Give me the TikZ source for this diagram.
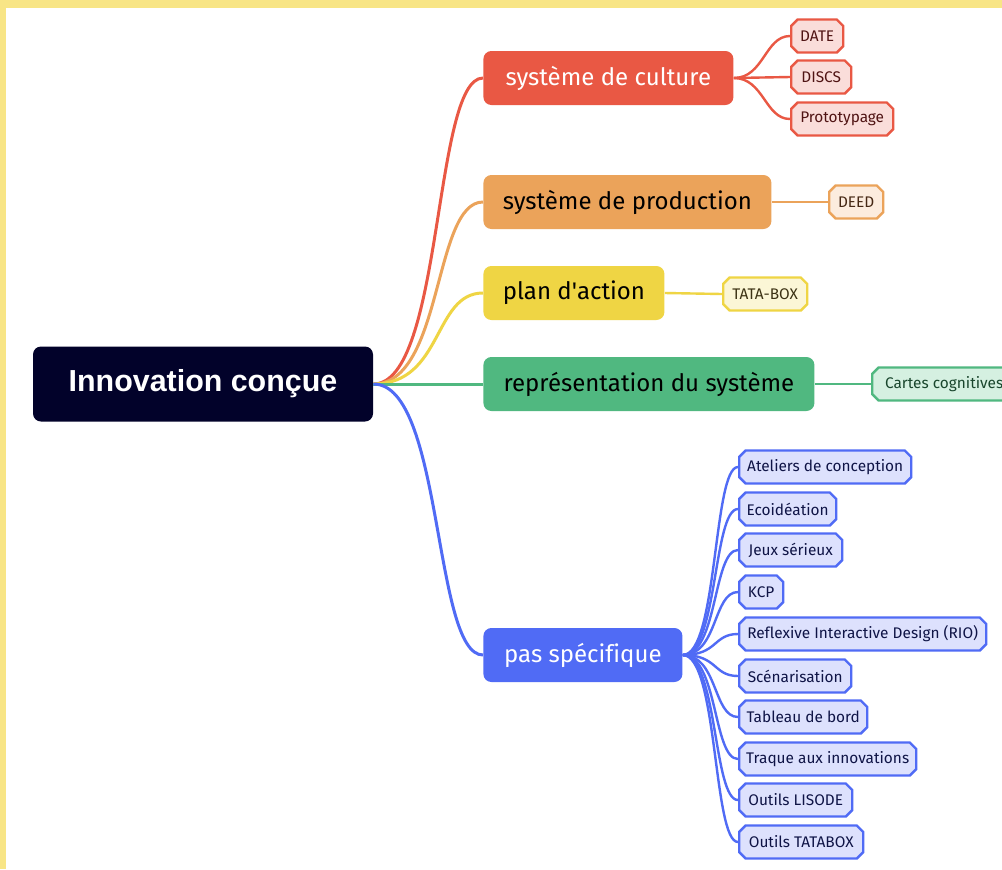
\documentclass[tikz,border=0pt]{standalone}
\usepackage{fontspec}
\setmainfont[Ligatures=NoCommon]{Fira Sans}
\newfontfamily\titlefont{Liberation Sans}
\usetikzlibrary{shapes.misc}

\definecolor{framecol}{RGB}{248,229,134}
\definecolor{rootcol}{RGB}{2,2,42}
\definecolor{redcol}{RGB}{233,88,68}
\definecolor{orangecol}{RGB}{235,163,90}
\definecolor{yellowcol}{RGB}{239,213,68}
\definecolor{greencol}{RGB}{80,184,128}
\definecolor{bluecol}{RGB}{80,107,245}
\definecolor{redlight}{RGB}{250,221,218}
\definecolor{orangelight}{RGB}{252,236,222}
\definecolor{yellowlight}{RGB}{251,246,214}
\definecolor{greenlight}{RGB}{213,240,225}
\definecolor{bluelight}{RGB}{221,225,253}
\definecolor{redtext}{RGB}{80,20,20}
\definecolor{orangetext}{RGB}{70,40,20}
\definecolor{yellowtext}{RGB}{60,50,20}
\definecolor{greentext}{RGB}{25,70,45}
\definecolor{bluetext}{RGB}{15,20,70}

\begin{document}
\begin{tikzpicture}[
			x=0.5pt, y=-0.5pt,
			every node/.style={inner sep=0pt},
			root/.style={rounded corners=4pt, fill=rootcol, text=white, minimum width=170pt, minimum height=37.5pt, font=\titlefont\bfseries\fontsize{15.2}{18}\selectfont},
			topic/.style={rounded corners=4pt, anchor=west, minimum height=27pt, font=\fontsize{12}{14}\selectfont},
			leaf/.style={chamfered rectangle, chamfered rectangle xsep=1.6pt, chamfered rectangle ysep=1.6pt, draw, line width=1.2pt, anchor=west, minimum height=16.5pt, font=\fontsize{7.7}{9}\selectfont},
			link/.style={line width=1.5pt},
			twig/.style={line width=1.2pt},
		]
		\useasboundingbox (0,0) rectangle (1002,869);
		\fill[framecol] (0,0) rectangle (1002,869);
		\fill[white] (6,8) rectangle (1002,869);
		\clip (6,8) rectangle (1002,869);

		% Root node
		\node[root] (root) at (203,384) {Innovation conçue};

		% Level 1 nodes
		\node[topic, fill=redcol, text=white, minimum width=125pt] (culture) at (483,78) {système de culture};
		\node[topic, fill=orangecol, text=black, minimum width=144pt] (production) at (483,202) {système de production};
		\node[topic, fill=yellowcol, text=black, minimum width=90.5pt] (plan) at (483,293) {plan d\textquotesingle action};
		\node[topic, fill=greencol, text=black, minimum width=165.5pt] (repr) at (483,384) {représentation du système};
		\node[topic, fill=bluecol, text=white, minimum width=99.5pt] (pas) at (483,655) {pas spécifique};

		% Level 2 nodes
		\node[leaf, draw=redcol, fill=redlight, text=redtext, minimum width=26pt] (date) at (790,36) {DATE};
		\node[leaf, draw=redcol, fill=redlight, text=redtext, minimum width=30pt] (discs) at (790,77) {DISCS};
		\node[leaf, draw=redcol, fill=redlight, text=redtext, minimum width=51pt] (proto) at (790,119) {Prototypage};
		\node[leaf, draw=orangecol, fill=orangelight, text=orangetext, minimum width=27pt] (deed) at (828,202) {DEED};
		\node[leaf, draw=yellowcol, fill=yellowlight, text=yellowtext, minimum width=42pt] (tatabox) at (722,294) {TATA-BOX};
		\node[leaf, draw=greencol, fill=greenlight, text=greentext, minimum width=72pt] (cartes) at (871,384) {Cartes cognitives};
		\node[leaf, draw=bluecol, fill=bluelight, text=bluetext, minimum width=86pt] (ateliers) at (738,467) {Ateliers de conception};
		\node[leaf, draw=bluecol, fill=bluelight, text=bluetext, minimum width=48.5pt] (ecoid) at (738,509) {Ecoidéation};
		\node[leaf, draw=bluecol, fill=bluelight, text=bluetext, minimum width=51.5pt] (jeux) at (738,550) {Jeux sérieux};
		\node[leaf, draw=bluecol, fill=bluelight, text=bluetext, minimum width=22pt] (kcp) at (738,592) {KCP};
		\node[leaf, draw=bluecol, fill=bluelight, text=bluetext, minimum width=123.5pt] (rio) at (738,634) {Reflexive Interactive Design (RIO)};
		\node[leaf, draw=bluecol, fill=bluelight, text=bluetext, minimum width=56pt] (scen) at (738,676) {Scénarisation};
		\node[leaf, draw=bluecol, fill=bluelight, text=bluetext, minimum width=64pt] (tableau) at (738,717) {Tableau de bord};
		\node[leaf, draw=bluecol, fill=bluelight, text=bluetext, minimum width=88.5pt] (traque) at (738,759) {Traque aux innovations};
		\node[leaf, draw=bluecol, fill=bluelight, text=bluetext, minimum width=56.5pt] (lisode) at (738,800) {Outils LISODE};
		\node[leaf, draw=bluecol, fill=bluelight, text=bluetext, minimum width=62pt] (outtata) at (738,842) {Outils TATABOX};

		% Connections from root to level 1
		\draw[link, redcol] (root.east) .. controls +(70,0) and +(-50,0) .. (culture.west);
		\draw[link, orangecol] (root.east) .. controls +(70,0) and +(-50,0) .. (production.west);
		\draw[link, yellowcol] (root.east) .. controls +(70,0) and +(-50,0) .. (plan.west);
		\draw[link, greencol] (root.east) -- (repr.west);
		\draw[link, bluecol] (root.east) .. controls +(70,0) and +(-50,0) .. (pas.west);

		% Connections from level 1 to level 2
		\draw[twig, redcol] (culture.east) .. controls +(30,0) and +(-25,0) .. (date.west);
		\draw[twig, redcol] (culture.east) -- (discs.west);
		\draw[twig, redcol] (culture.east) .. controls +(30,0) and +(-25,0) .. (proto.west);
		\draw[twig, orangecol] (production.east) -- (deed.west);
		\draw[twig, yellowcol] (plan.east) -- (tatabox.west);
		\draw[twig, greencol] (repr.east) -- (cartes.west);
		\draw[twig, bluecol] (pas.east) .. controls +(35,0) and +(-25,0) .. (ateliers.west);
		\draw[twig, bluecol] (pas.east) .. controls +(35,0) and +(-25,0) .. (ecoid.west);
		\draw[twig, bluecol] (pas.east) .. controls +(35,0) and +(-25,0) .. (jeux.west);
		\draw[twig, bluecol] (pas.east) .. controls +(35,0) and +(-25,0) .. (kcp.west);
		\draw[twig, bluecol] (pas.east) .. controls +(35,0) and +(-25,0) .. (rio.west);
		\draw[twig, bluecol] (pas.east) .. controls +(35,0) and +(-25,0) .. (scen.west);
		\draw[twig, bluecol] (pas.east) .. controls +(35,0) and +(-25,0) .. (tableau.west);
		\draw[twig, bluecol] (pas.east) .. controls +(35,0) and +(-25,0) .. (traque.west);
		\draw[twig, bluecol] (pas.east) .. controls +(35,0) and +(-25,0) .. (lisode.west);
		\draw[twig, bluecol] (pas.east) .. controls +(35,0) and +(-25,0) .. (outtata.west);
	\end{tikzpicture}
\end{document}
